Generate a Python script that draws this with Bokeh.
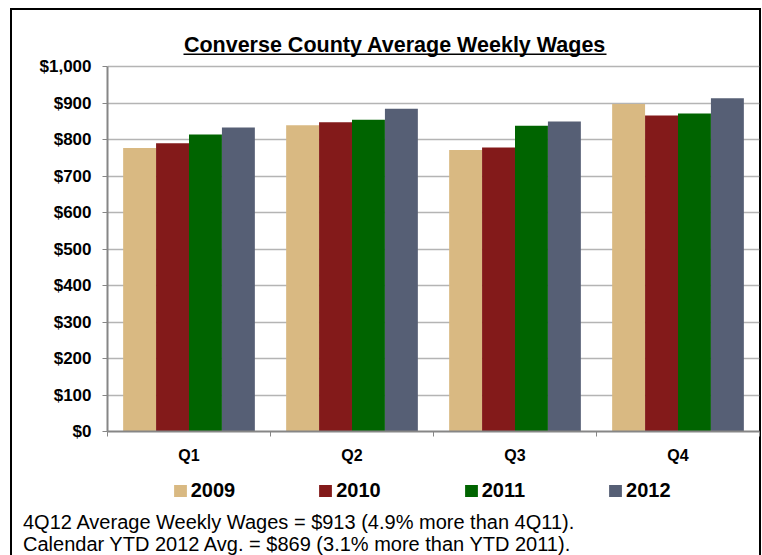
from bokeh.plotting import figure
from bokeh.layouts import column
from bokeh.models import (ColumnDataSource, Range1d, LinearAxis, FixedTicker, Grid, Div,
                          NumeralTickFormatter, Legend, LegendItem, Label, BoxAnnotation)
from bokeh.embed import file_html
from bokeh.resources import INLINE

# ---- data ----
quarters = ["Q1", "Q2", "Q3", "Q4"]
years = ["2009", "2010", "2011", "2012"]
wages_2009 = [777, 839, 771, 897]
wages_2010 = [790, 847, 778, 866]
wages_2011 = [814, 854, 838, 871]
wages_2012 = [833, 884, 849, 913]
series = [wages_2009, wages_2010, wages_2011, wages_2012]
y_ticks = list(range(0, 1001, 100))
title_text = "Converse County Average Weekly Wages"
note_lines = ["4Q12 Average Weekly Wages = $913 (4.9% more than 4Q11).",
              "Calendar YTD 2012 Avg. = $869 (3.1% more than YTD 2011)."]

# ---- style / layout (pixels) ----
colors = ["#D9B982", "#831A1A", "#006400", "#565F75"]
FONT = "Liberation Sans"
AXIS_GREY = "#868686"
W = 762
H_MAIN, H_LEG, H_NOTE = 468, 40, 47
FRAME_L, FRAME_R, FRAME_TOP, VAL_TOP, FRAME_BOT = 107, 759, 30, 66, 431
PX_X = (FRAME_R - FRAME_L) / len(quarters)          # px per category
PX_Y = (FRAME_BOT - VAL_TOP) / 1000.0               # px per dollar
y_end = (FRAME_BOT - FRAME_TOP) / PX_Y


def dx(px):   # page x -> data x (main chart)
    return (px - FRAME_L) / PX_X


def dy(py):   # page y -> data y (main chart)
    return (FRAME_BOT - py) / PX_Y


border_css = ("linear-gradient(#000,#000) 10px 8px / 2px 560px no-repeat, "
              "linear-gradient(#000,#000) 10px 8px / 751px 2px no-repeat, "
              "linear-gradient(#000,#000) 759px 8px / 2px 560px no-repeat")

# ---- main chart ----
p_main = figure(width=W, height=H_MAIN, output_backend="svg", toolbar_location=None,
                x_range=Range1d(0, len(quarters)), y_range=Range1d(0, y_end),
                x_axis_type=None, y_axis_type=None,
                min_border_left=FRAME_L, min_border_right=W - FRAME_R,
                min_border_top=FRAME_TOP, min_border_bottom=H_MAIN - FRAME_BOT)
p_main.outline_line_color = None
p_main.background_fill_color = None
p_main.border_fill_color = None

yax = LinearAxis(ticker=FixedTicker(ticks=y_ticks), bounds=(0, 1000),
                 formatter=NumeralTickFormatter(format="$0,0"))
yax.axis_line_color = AXIS_GREY
yax.axis_line_width = 2
yax.major_tick_line_color = AXIS_GREY
yax.major_tick_out = 5
yax.major_tick_in = 0
yax.minor_tick_line_color = None
yax.major_label_text_font = FONT
yax.major_label_text_font_style = "bold"
yax.major_label_text_font_size = "17px"
yax.major_label_text_color = "black"
yax.major_label_standoff = 11
p_main.add_layout(yax, "left")

centers = [i + 0.5 for i in range(len(quarters))]
bounds = [float(i) for i in range(len(quarters) + 1)]
xax = LinearAxis(ticker=FixedTicker(ticks=centers, minor_ticks=bounds))
xax.major_label_overrides = {c: q for c, q in zip(centers, quarters)}
xax.axis_line_color = AXIS_GREY
xax.axis_line_width = 2
xax.major_tick_line_color = None
xax.major_tick_out = 0
xax.major_tick_in = 0
xax.minor_tick_line_color = AXIS_GREY
xax.minor_tick_out = 5
xax.minor_tick_in = 0
xax.major_label_text_font = FONT
xax.major_label_text_font_style = "bold"
xax.major_label_text_font_size = "16px"
xax.major_label_text_color = "black"
xax.major_label_standoff = 10
p_main.add_layout(xax, "below")

g = Grid(dimension=1, ticker=FixedTicker(ticks=y_ticks))
g.grid_line_color = "#b4b4b4"
g.grid_line_width = 1.5
p_main.add_layout(g)

bar_w = 0.202
for j, (vals, col) in enumerate(zip(series, colors)):
    xs = [c + (j - 1.5) * bar_w for c in centers]
    src = ColumnDataSource(dict(x=xs, top=vals))
    p_main.vbar(x="x", top="top", bottom=0, width=bar_w, source=src,
                fill_color=col, line_color=None)

# title (inside the frame, above the $1,000 line) with underline
p_main.add_layout(Label(x=dx(394.5), y=dy(44), text=title_text, text_align="center",
                        text_baseline="alphabetic", text_font=FONT,
                        text_font_style="bold", text_font_size="21.5px", text_color="black"))
p_main.add_layout(BoxAnnotation(left=dx(183), right=dx(606), top=dy(53), bottom=dy(54.6),
                                fill_color="black", fill_alpha=1, line_color=None))

# ---- legend strip ----
p_leg = figure(width=W, height=H_LEG, output_backend="svg", toolbar_location=None,
               x_range=Range1d(0, 1), y_range=Range1d(0, 1),
               x_axis_type=None, y_axis_type=None,
               min_border_left=0, min_border_right=0, min_border_top=0, min_border_bottom=0)
p_leg.outline_line_color = None
p_leg.background_fill_color = None
p_leg.border_fill_color = None
p_leg.grid.visible = False
items = []
for yr, col in zip(years, colors):
    r = p_leg.vbar(x=[0.5], top=[0], bottom=[0], width=0.0, fill_color=col, line_color=None)
    items.append(LegendItem(label=yr, renderers=[r]))
legend = Legend(items=items, orientation="horizontal", location=(64.7, 6.3))
legend.glyph_width = 16
legend.glyph_height = 15
legend.label_standoff = 3
legend.spacing = 82
legend.padding = 0
legend.margin = 0
legend.border_line_color = None
legend.background_fill_color = None
legend.label_text_font = FONT
legend.label_text_font_style = "bold"
legend.label_text_font_size = "20px"
legend.label_text_color = "black"
p_leg.add_layout(legend, "center")

# ---- notes ----
notes = Div(text="<div style='font-family:\"Liberation Sans\";font-size:20px;line-height:21.5px;"
                 "color:#000;margin:-1px 0 0 18px;white-space:nowrap'>" + "<br>".join(note_lines) + "</div>",
            width=W, height=H_NOTE, disable_math=True)

p = column(p_main, p_leg, notes, spacing=0, styles={"background": border_css})

open("out.html", "w").write(file_html(p, INLINE))
